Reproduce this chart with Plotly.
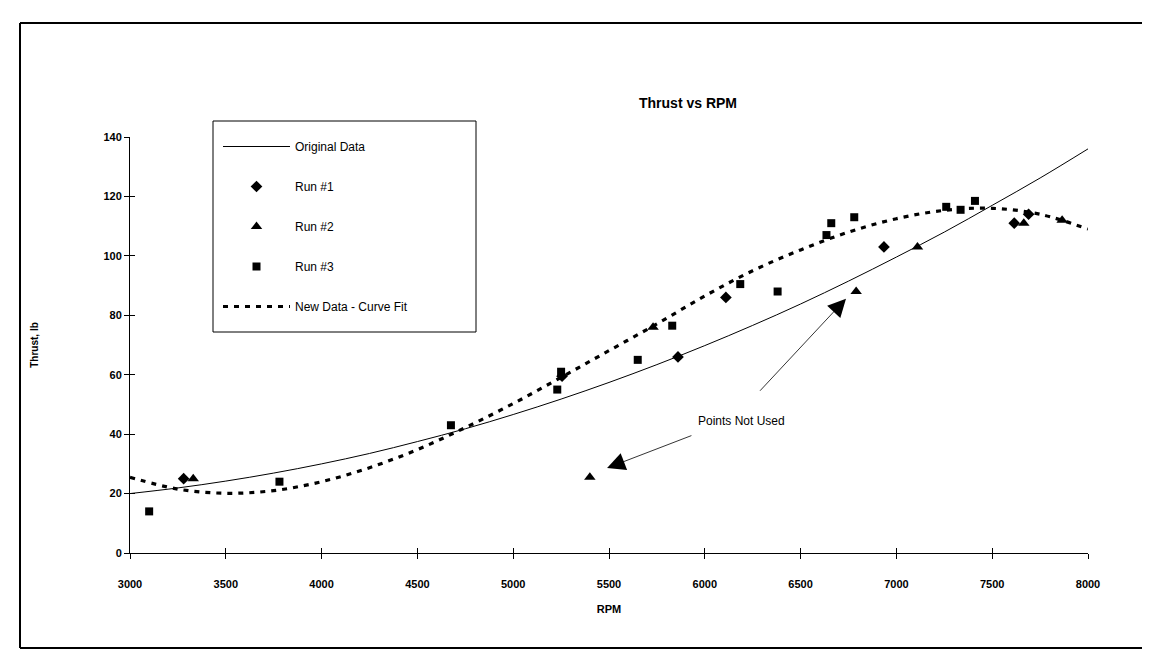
import plotly.graph_objects as go

# ---- data ----
run1_rpm = [3280, 5255, 5860, 6110, 6935, 7615, 7690]
run1_thrust = [25, 59.5, 66, 86, 103, 111, 114]

run2_rpm = [3330, 5400, 5730, 6790, 7110, 7665, 7865]
run2_thrust = [25, 25.5, 76, 88, 103, 111, 112]

run3_rpm = [3100, 3780, 4675, 5230, 5250, 5650, 5830, 6185, 6380, 6635, 6660, 6780, 7260, 7335, 7410]
run3_thrust = [14, 24, 43, 55, 61, 65, 76.5, 90.5, 88, 107, 111, 113, 116.5, 115.5, 118.5]

curve_rpm = [3000, 3250, 3500, 3750, 4000, 4250, 4500, 4750, 5000, 5250, 5500,
             5750, 6000, 6250, 6500, 6750, 7000, 7250, 7500, 7750, 8000]
original_thrust = [20, 21.9, 24.2, 26.9, 30.0, 33.5, 37.5, 41.8, 46.6, 51.8, 57.4,
                   63.4, 69.8, 76.6, 83.8, 91.5, 99.6, 108.0, 117.0, 126.2, 136.0]
fit_thrust = [25.5, 21.5, 20.1, 21.0, 24.0, 28.7, 34.8, 42.2, 50.3, 59.1, 68.1,
              77.1, 86.5, 95.0, 102.0, 108.0, 112.5, 115.3, 116.0, 114.0, 109.0]

x_ticks = [3000, 3500, 4000, 4500, 5000, 5500, 6000, 6500, 7000, 7500, 8000]
y_ticks = [0, 20, 40, 60, 80, 100, 120, 140]

FONT = "Liberation Sans, Arial, sans-serif"

fig = go.Figure()
fig.add_trace(go.Scatter(x=curve_rpm, y=original_thrust, mode="lines", name="Original Data",
                         line=dict(color="black", width=1), line_shape="spline",
                         legendgroup="a"))
fig.add_trace(go.Scatter(x=run1_rpm, y=run1_thrust, mode="markers", name="Run #1",
                         marker=dict(symbol="diamond", size=9, color="black"), legendgroup="b"))
fig.add_trace(go.Scatter(x=run2_rpm, y=run2_thrust, mode="markers", name="Run #2",
                         marker=dict(symbol="triangle-up", size=10, color="black"), legendgroup="c"))
fig.add_trace(go.Scatter(x=run3_rpm, y=run3_thrust, mode="markers", name="Run #3",
                         marker=dict(symbol="square", size=8, color="black"), legendgroup="d"))
fig.add_trace(go.Scatter(x=curve_rpm, y=fit_thrust, mode="lines", name="New Data - Curve Fit",
                         line=dict(color="black", width=3.2, dash="5px,6px"), line_shape="spline",
                         legendgroup="e"))
# helper trace for the inner half of the crossing ticks
fig.add_trace(go.Scatter(x=[], y=[], xaxis="x2", yaxis="y2", showlegend=False, hoverinfo="skip"))

W, H = 1150, 654
L, R, T, B = 122, 70, 129, 109
PW, PH = W - L - R, H - T - B

def px(x):
    return (x - L) / PW

def py(y):
    return (H - B - y) / PH

fig.update_layout(
    width=W, height=H,
    margin=dict(l=L, r=R, t=T, b=B),
    paper_bgcolor="white", plot_bgcolor="white",
    font=dict(family=FONT, color="black"),
    showlegend=True,
    legend=dict(x=px(210), y=py(124), xanchor="left", yanchor="top",
                bgcolor="rgba(0,0,0,0)", borderwidth=0,
                font=dict(size=12, family=FONT), itemwidth=67,
                traceorder="grouped", tracegroupgap=21),
    xaxis=dict(range=[3000, 8000], tickvals=x_ticks, ticks="outside", ticklen=5,
               tickcolor="black", showline=True, linecolor="black", linewidth=1,
               showgrid=False, zeroline=False, ticklabelstandoff=16,
               tickfont=dict(size=11, family=FONT, weight="bold"),
               title=dict(text="RPM", font=dict(size=11, family=FONT, weight="bold"), standoff=16)),
    yaxis=dict(range=[0, 140], tickvals=y_ticks, ticks="outside", ticklen=5,
               tickcolor="black", showline=True, linecolor="black", linewidth=1,
               showgrid=False, zeroline=False,
               tickfont=dict(size=11, family=FONT, weight="bold"),
               title=dict(text="Thrust, lb", font=dict(size=10, family=FONT, weight="bold"), standoff=62)),
    xaxis2=dict(range=[3000, 8000], overlaying="x", anchor="y2", side="bottom", tickvals=x_ticks,
                ticks="inside", ticklen=5, tickcolor="black", showticklabels=False,
                showline=False, showgrid=False, zeroline=False),
    yaxis2=dict(range=[0, 140], overlaying="y", anchor="x2", side="left", tickvals=y_ticks,
                ticks="inside", ticklen=5, tickcolor="black", showticklabels=False,
                showline=False, showgrid=False, zeroline=False),
)

# title
fig.add_annotation(text="Thrust vs RPM", xref="paper", yref="paper", x=px(680), y=py(85),
                   showarrow=False, font=dict(size=14, family=FONT, weight="bold"))

# "Points Not Used" label and arrows
fig.add_annotation(text="Points Not Used", x=6194, y=44.4, xref="x", yref="y", showarrow=False,
                   font=dict(size=12, family=FONT))
fig.add_annotation(text="", x=5490, y=28.6, ax=5938, ay=39.7, xref="x", yref="y",
                   axref="x", ayref="y", showarrow=True, arrowhead=2, arrowsize=4.5,
                   arrowwidth=0.8, arrowcolor="black")
fig.add_annotation(text="", x=6737, y=85.6, ax=6281, ay=54.1, xref="x", yref="y",
                   axref="x", ayref="y", showarrow=True, arrowhead=2, arrowsize=4.5,
                   arrowwidth=0.8, arrowcolor="black")

# legend frame
fig.add_shape(type="rect", xref="paper", yref="paper", x0=px(205), x1=px(468),
              y0=py(324), y1=py(113), line=dict(color="black", width=1))
# outer frame (top, left, bottom edges)
frame = dict(color="black", width=2)
fig.add_shape(type="line", xref="paper", yref="paper", x0=px(12), x1=px(1150),
              y0=py(15), y1=py(15), line=frame)
fig.add_shape(type="line", xref="paper", yref="paper", x0=px(12), x1=px(12),
              y0=py(15), y1=py(640), line=frame)
fig.add_shape(type="line", xref="paper", yref="paper", x0=px(12), x1=px(1150),
              y0=py(640), y1=py(640), line=frame)

fig.write_html("out.html")
